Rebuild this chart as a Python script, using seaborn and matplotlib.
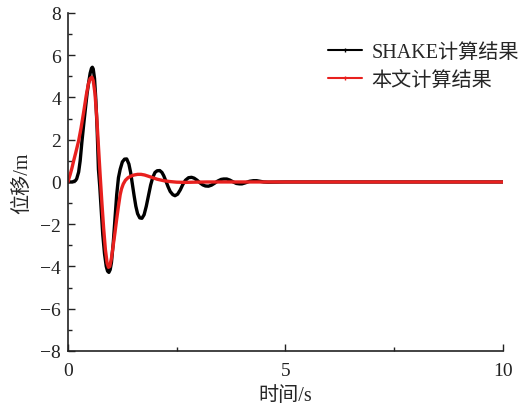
import matplotlib
matplotlib.use("Agg")
import matplotlib.pyplot as plt
import seaborn as sns
import pandas as pd
from matplotlib.lines import Line2D
from matplotlib.ticker import MultipleLocator

sns.set_style("ticks")
plt.rcParams['font.family'] = ['Liberation Serif', 'Noto Sans CJK SC']
plt.rcParams['axes.unicode_minus'] = True

# SHAKE result
t_shake = [0, 0.1, 0.17, 0.2, 0.245, 0.28, 0.32, 0.36, 0.4, 0.44, 0.475, 0.51, 0.54, 0.56,
           0.58, 0.61, 0.64, 0.67, 0.7, 0.73, 0.76, 0.8, 0.84, 0.88, 0.91, 0.94, 0.97,
           1.0, 1.04, 1.08, 1.12, 1.16, 1.2, 1.25, 1.3, 1.35, 1.4, 1.44, 1.48, 1.52,
           1.56, 1.6, 1.65, 1.7, 1.75, 1.8, 1.85, 1.9, 1.95, 2.0, 2.05, 2.11, 2.16,
           2.2, 2.25, 2.3, 2.35, 2.41, 2.46, 2.52, 2.58, 2.64, 2.7, 2.77, 2.84, 2.9,
           2.97, 3.04, 3.1, 3.16, 3.23, 3.3, 3.37, 3.44, 3.52, 3.58, 3.65, 3.72, 3.8,
           3.87, 3.94, 4.0, 4.08, 4.17, 4.26, 4.34, 4.42, 4.5, 4.6, 5.0, 10.0]
y_shake = [0, 0.0, 0.06, 0.15, 0.47, 1.0, 1.9, 2.7, 3.46, 4.2, 4.7, 5.15, 5.38, 5.43,
           5.35, 4.9, 3.9, 2.5, 0.6, -0.2, -1.2, -2.5, -3.4, -4.0, -4.22, -4.28, -4.15,
           -3.8, -2.9, -1.75, -0.6, 0.2, 0.6, 0.95, 1.08, 1.09, 0.85, 0.45, -0.1, -0.65,
           -1.15, -1.5, -1.7, -1.72, -1.55, -1.15, -0.65, -0.15, 0.22, 0.45, 0.53, 0.54, 0.45,
           0.3, 0.05, -0.22, -0.45, -0.6, -0.65, -0.58, -0.38, -0.12, 0.08, 0.2, 0.22, 0.18,
           0.08, -0.05, -0.14, -0.19, -0.2, -0.15, -0.06, 0.04, 0.12, 0.14, 0.14, 0.09, 0.0,
           -0.07, -0.09, -0.09, -0.04, 0.03, 0.06, 0.06, 0.03, 0.0, -0.01, 0.0, 0.0]

# This paper's result
t_paper = [0, 0.015, 0.05, 0.09, 0.13, 0.18, 0.245, 0.3, 0.36, 0.42, 0.47, 0.51, 0.55,
           0.58, 0.62, 0.66, 0.7, 0.74, 0.78, 0.82, 0.86, 0.9, 0.93, 0.96, 1.0, 1.04,
           1.08, 1.12, 1.16, 1.2, 1.23, 1.27, 1.32, 1.38, 1.45, 1.52, 1.6, 1.68, 1.76,
           1.85, 1.95, 2.05, 2.2, 2.34, 2.5, 2.7, 2.9, 3.2, 10.0]
y_paper = [0, 0.12, 0.35, 0.65, 1.0, 1.4, 1.95, 2.55, 3.3, 4.1, 4.65, 4.9, 4.96,
           4.8, 4.2, 3.1, 1.7, 0.3, -1.0, -2.2, -3.2, -3.85, -4.04, -4.0, -3.6, -3.0,
           -2.4, -1.75, -1.15, -0.6, -0.33, -0.1, 0.08, 0.2, 0.28, 0.33, 0.36, 0.36, 0.33,
           0.27, 0.2, 0.13, 0.06, 0.02, -0.01, -0.02, -0.01, 0.0, 0.0]

label_shake = "SHAKE计算结果"
label_paper = "本文计算结果"

fig = plt.figure(figsize=(5.25, 4.1), dpi=100)
ax = fig.add_axes([0.1295, 0.1415, 0.8285, 0.8245])

df_s = pd.DataFrame({"t": t_shake, "y": y_shake})
df_p = pd.DataFrame({"t": t_paper, "y": y_paper})
sns.lineplot(data=df_s, x="t", y="y", ax=ax, color="black", linewidth=2.4, sort=False)
sns.lineplot(data=df_p, x="t", y="y", ax=ax, color="#e8201e", linewidth=2.4, sort=False)

ax.set_xlim(0, 10)
ax.set_ylim(-8, 8)
ax.xaxis.set_major_locator(MultipleLocator(5))
ax.xaxis.set_minor_locator(MultipleLocator(2.5))
ax.yaxis.set_major_locator(MultipleLocator(2))
ax.yaxis.set_minor_locator(MultipleLocator(1))
ax.tick_params(which="both", direction="in", width=1.0, colors="#222222", labelsize=14)
ax.tick_params(which="major", length=5)
ax.tick_params(which="minor", length=3)
ax.tick_params(axis="x", which="major", pad=8)
ax.tick_params(axis="y", which="major", pad=5)
for s in ["top", "right"]:
    ax.spines[s].set_visible(False)
for s in ["left", "bottom"]:
    ax.spines[s].set_linewidth(1.2)
    ax.spines[s].set_color("#222222")

ax.set_xlabel("时间/s", fontsize=14.5, labelpad=5)
ax.set_ylabel("位移/m", fontsize=14.5, labelpad=6)

handles = [Line2D([0], [0], color="black", lw=1.5, marker="|", markersize=3),
           Line2D([0], [0], color="#e8201e", lw=1.5, marker="|", markersize=3)]
ax.legend(handles, [label_shake, label_paper], loc="upper right",
          bbox_to_anchor=(1.055, 0.935), frameon=False, fontsize=14.5,
          handlelength=1.7, handletextpad=0.45, labelspacing=0.45, borderaxespad=0)

fig.savefig("out.png", dpi=100)
